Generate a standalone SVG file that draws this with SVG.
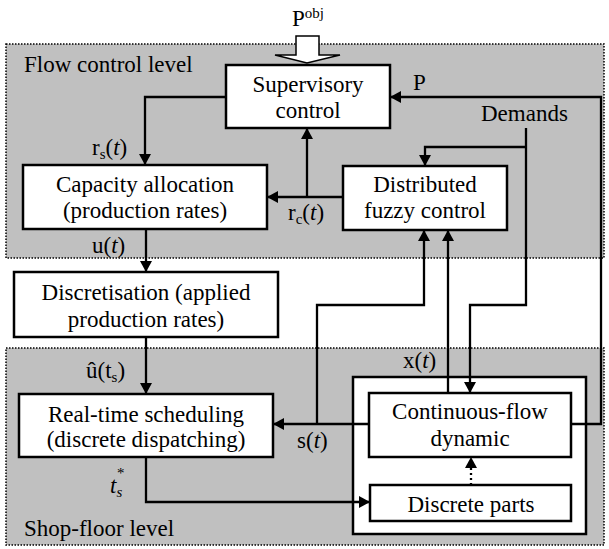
<svg xmlns="http://www.w3.org/2000/svg" width="609" height="549" viewBox="0 0 609 549" font-family="'Liberation Serif', 'Times New Roman', 'DejaVu Serif', serif">
<defs>
<marker id="ah" markerWidth="12" markerHeight="12" viewBox="0 0 12 12" refX="11" refY="6" orient="auto" markerUnits="userSpaceOnUse">
<path d="M0,0 L11,6 L0,12 z" fill="#000"/>
</marker>
<style>
text{font-family:'Liberation Serif','Times New Roman','DejaVu Serif',serif;font-size:23px;fill:#000}
.c{text-anchor:middle}
.sub{font-size:15px}
.panel{fill:#c0c0c0;stroke:#000;stroke-width:1.5;stroke-dasharray:1.5 1.5}
.box{fill:#fff;stroke:#000;stroke-width:2.5}
.arr{fill:none;stroke:#000;stroke-width:2.3;marker-end:url(#ah)}
</style>
</defs>

<g id="flow-level">
<rect class="panel" x="6" y="44" width="598" height="214"/>
<text x="24" y="72">Flow control level</text>
</g>
<g id="shop-level">
<rect class="panel" x="6" y="348" width="598" height="197"/>
<text x="24" y="536">Shop-floor level</text>
</g>

<g id="xt-container">
<rect class="box" x="353" y="377" width="233" height="157"/>
<text x="403" y="368">x(<tspan font-style="italic">t</tspan>)</text>
</g>

<g id="supervisory">
<rect class="box" x="226" y="65" width="164" height="63"/>
<text class="c" x="308" y="92">Supervisory</text>
<text class="c" x="308" y="118">control</text>
</g>
<g id="capacity">
<rect class="box" x="23" y="165" width="244" height="64"/>
<text class="c" x="145" y="192">Capacity allocation</text>
<text class="c" x="145" y="218">(production rates)</text>
</g>
<g id="fuzzy">
<rect class="box" x="343" y="166" width="164" height="64"/>
<text class="c" x="425" y="192">Distributed</text>
<text class="c" x="425" y="218">fuzzy control</text>
</g>
<g id="discretisation">
<rect class="box" x="14" y="272" width="264" height="65"/>
<text class="c" x="146" y="300">Discretisation (applied</text>
<text class="c" x="146" y="327">production rates)</text>
</g>
<g id="realtime">
<rect class="box" x="19" y="394" width="254" height="63"/>
<text class="c" x="146" y="422">Real-time scheduling</text>
<text class="c" x="146" y="447">(discrete dispatching)</text>
</g>
<g id="continuous">
<rect class="box" x="369" y="393" width="202" height="64"/>
<text class="c" x="470" y="419">Continuous-flow</text>
<text class="c" x="470" y="446">dynamic</text>
</g>
<g id="discrete-parts">
<rect class="box" x="370" y="485" width="201" height="36"/>
<text class="c" x="471" y="512">Discrete parts</text>
</g>

<g id="connectors">
<polygon points="296,36 319,36 319,55 340,55 307,63 275,55 296,55" fill="#fff" stroke="#000" stroke-width="1.5"/>
<polyline class="arr" points="226,97 145,97 145,165"/>
<polyline class="arr" points="571,424 601,424 601,97 390,97"/>
<polyline class="arr" points="526,128 526,305 470,305 470,393"/>
<polyline class="arr" points="526,147 425,147 425,166"/>
<polyline class="arr" points="343,197 267,197"/>
<polyline class="arr" points="307,197 307,128"/>
<polyline class="arr" points="448,393 448,230"/>
<polyline class="arr" points="369,424 273,424"/>
<polyline class="arr" points="317,424 317,305 424,305 424,230"/>
<polyline class="arr" points="146,229 146,272"/>
<polyline class="arr" points="146,337 146,394"/>
<polyline class="arr" points="146,457 146,502 370,502"/>
<line x1="471" y1="485" x2="471" y2="467" stroke="#000" stroke-width="2.3" stroke-dasharray="2 3"/>
<path d="M465,468 L471,457 L477,468 z" fill="#000"/>
</g>

<g id="labels">
<text x="292" y="26">P<tspan class="sub" dy="-8">obj</tspan></text>
<text x="413" y="90">P</text>
<text x="481" y="121">Demands</text>
<text x="92" y="155">r<tspan class="sub" dy="4">s</tspan><tspan dy="-4">(</tspan><tspan font-style="italic">t</tspan>)</text>
<text x="288" y="220">r<tspan class="sub" dy="4">c</tspan><tspan dy="-4">(</tspan><tspan font-style="italic">t</tspan>)</text>
<text x="92" y="253">u(<tspan font-style="italic">t</tspan>)</text>
<text x="86" y="378">û(t<tspan class="sub" dy="4">s</tspan><tspan dy="-4">)</tspan></text>
<text x="297" y="448">s(<tspan font-style="italic">t</tspan>)</text>
<text x="110" y="493" font-style="italic">t<tspan class="sub" dy="4">s</tspan><tspan class="sub" dy="-19" dx="-6">*</tspan></text>
</g>
</svg>
